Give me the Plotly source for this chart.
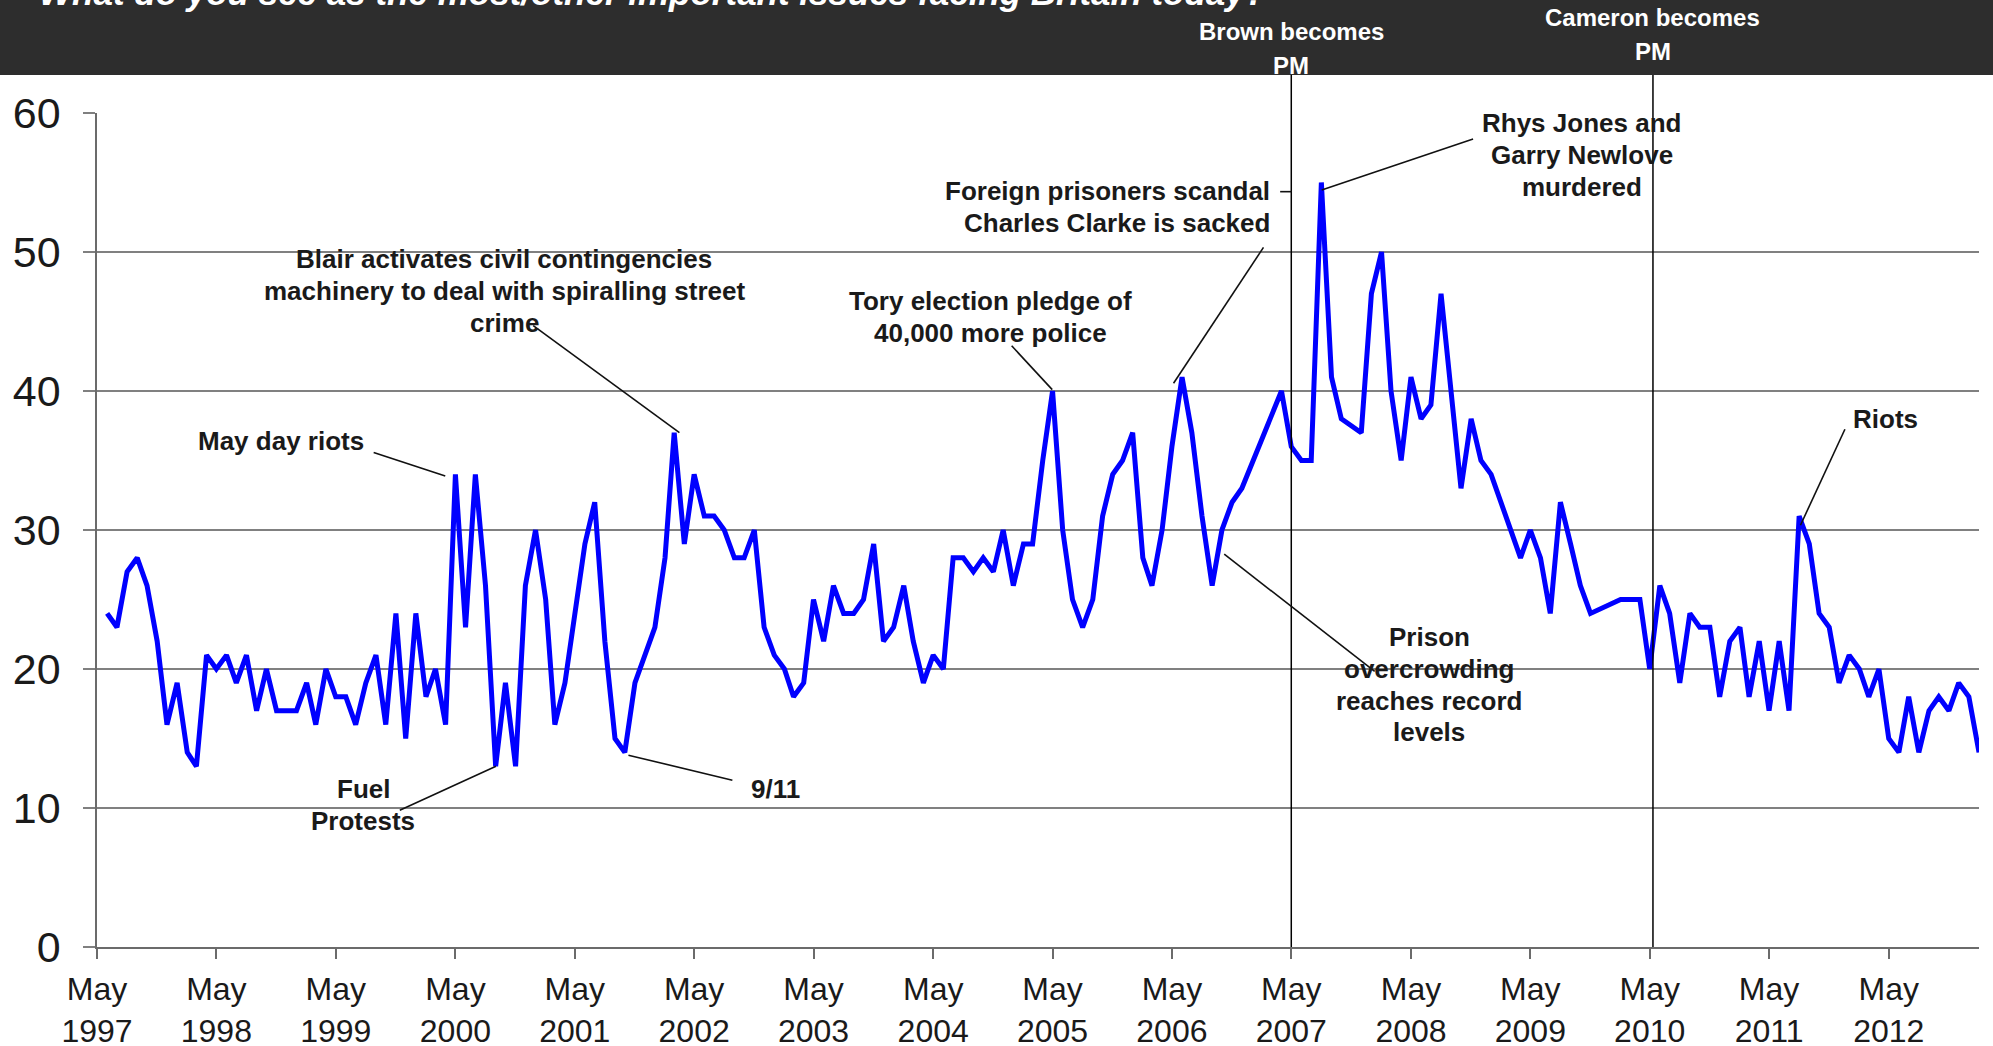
import plotly.graph_objects as go

# ---------------- data (share naming crime as an important issue, %) ----------------
# monthly values, index 0 = January (1997 starts in June, 2013 ends in February); None = no survey
concern_1997 = [24, 23, 27, 28, 26, 22, 16]                      # Jun-Dec
concern_1998 = [19, 14, 13, 21, 20, 21, 19, 21, 17, 20, 17, 17]
concern_1999 = [17, 19, 16, 20, 18, 18, 16, 19, 21, 16, 24, 15]
concern_2000 = [24, 18, 20, 16, 34, 23, 34, 26, 13, 19, 13, 26]
concern_2001 = [30, 25, 16, 19, 24, 29, 32, 22, 15, 14, 19, 21]
concern_2002 = [23, 28, 37, 29, 34, 31, 31, 30, 28, 28, 30, 23]
concern_2003 = [21, 20, 18, 19, 25, 22, 26, 24, 24, 25, 29, 22]
concern_2004 = [23, 26, 22, 19, 21, 20, 28, 28, 27, 28, 27, 30]
concern_2005 = [26, 29, 29, 35, 40, 30, 25, 23, 25, 31, 34, 35]
concern_2006 = [37, 28, 26, 30, 36, 41, 37, 31, 26, 30, 32, 33]
concern_2007 = [None, None, None, 40, 36, 35, 35, 55, 41, 38, None, 37]
concern_2008 = [47, 50, 40, 35, 41, 38, 39, 47, 40, 33, 38, 35]
concern_2009 = [34, 32, 30, 28, 30, 28, 24, 32, 29, 26, 24, None]
concern_2010 = [None, 25, 25, 25, 20, 26, 24, 19, 24, 23, 23, 18]
concern_2011 = [22, 23, 18, 22, 17, 22, 17, 31, 29, 24, 23, 19]
concern_2012 = [21, 20, 18, 20, 15, 14, 18, 14, 17, 18, 17, 19]
concern_2013 = [18, 14]                                          # Jan-Feb

series_by_year = {
    1997: (6, concern_1997), 1998: (1, concern_1998), 1999: (1, concern_1999),
    2000: (1, concern_2000), 2001: (1, concern_2001), 2002: (1, concern_2002),
    2003: (1, concern_2003), 2004: (1, concern_2004), 2005: (1, concern_2005),
    2006: (1, concern_2006), 2007: (1, concern_2007), 2008: (1, concern_2008),
    2009: (1, concern_2009), 2010: (1, concern_2010), 2011: (1, concern_2011),
    2012: (1, concern_2012), 2013: (1, concern_2013),
}

tick_years = list(range(1997, 2013))
tick_dates = [f"{y}-05-01" for y in tick_years]
tick_labels = [f"May<br>{y}" for y in tick_years]

title_text = "What do you see as the most/other important issues facing Britain today?"

pm_events = [  # (date, label lines, paper y of each line)
    ("2007-05-01", ["Brown becomes", "PM"], [1.0981, 1.0569]),
    ("2010-05-11", ["Cameron becomes", "PM"], [1.1148, 1.0737]),
]

# annotation text: (anchor date, value of first line, lines, xanchor)
notes = [
    ("1998-11-14", 36.4, ["May day riots"], "center"),
    ("1999-07-24", 11.35, ["Fuel", "Protests"], "center"),
    ("2000-09-28", 49.5, ["Blair activates civil contingencies",
                          "machinery to deal with spiralling street",
                          "crime"], "center"),
    ("2003-01-05", 11.4, ["9/11"], "center"),
    ("2004-10-22", 46.45, ["Tory election pledge of", "40,000 more police"], "center"),
    ("2007-03-03", 54.4, ["Foreign prisoners scandal", "Charles Clarke is sacked"], "right"),
    ("2009-10-05", 59.26, ["Rhys Jones and", "Garry Newlove", "murdered"], "center"),
    ("2008-06-26", 22.3, ["Prison", "overcrowding", "reaches record", "levels"], "center"),
    ("2012-04-20", 37.95, ["Riots"], "center"),
]

# leader lines: ((date0, value0), (date1, value1))
leaders = [
    (("1999-08-25", 35.58), ("2000-03-31", 33.88)),
    (("1999-11-13", 9.84), ("2000-09-02", 13.0)),
    (("2000-12-25", 44.7), ("2002-03-17", 37.0)),
    (("2001-10-12", 13.8), ("2002-08-26", 12.0)),
    (("2004-12-27", 43.25), ("2005-04-30", 40.1)),
    (("2007-02-05", 50.33), ("2006-05-06", 40.56)),
    (("2007-03-28", 54.34), ("2007-05-02", 54.34)),
    (("2007-08-02", 54.46), ("2008-11-07", 58.13)),
    (("2006-10-08", 28.26), ("2008-01-11", 19.83)),
    (("2011-12-19", 37.25), ("2011-08-05", 30.34)),
]

# ---------------- build series ----------------
dates, values = [], []
for year, (start_month, vals) in series_by_year.items():
    for i, v in enumerate(vals):
        dates.append(f"{year}-{start_month + i:02d}-01")
        values.append(v)

FONT = "Liberation Sans, Arial, sans-serif"
TXT = "#1a1a1a"

fig = go.Figure()
fig.add_trace(go.Scatter(
    x=dates, y=values, mode="lines", connectgaps=True,
    line=dict(color="#0000ff", width=5), showlegend=False, hoverinfo="skip",
))

shapes = []
# dark header band
shapes.append(dict(type="rect", xref="paper", yref="paper", x0=-0.1, x1=1.1,
                   y0=1.0456, y1=1.25, fillcolor="#2d2d2d", line=dict(width=0),
                   layer="below"))
# PM change lines
for d, _, _ in pm_events:
    shapes.append(dict(type="line", xref="x", yref="paper", x0=d, x1=d, y0=0, y1=1.0456,
                       line=dict(color="#000000", width=1.5)))
# annotation leader lines
for (d0, v0), (d1, v1) in leaders:
    shapes.append(dict(type="line", xref="x", yref="y", x0=d0, y0=v0, x1=d1, y1=v1,
                       line=dict(color="#111111", width=1.6)))

annotations = []
annotations.append(dict(
    text=title_text, xref="paper", yref="paper", x=-0.0318, y=1.119,
    xanchor="left", yanchor="bottom", showarrow=False,
    font=dict(family=FONT, size=35, color="#ffffff", weight="bold", style="italic"),
))
for d, lines, ys in pm_events:
    for line, yy in zip(lines, ys):
        annotations.append(dict(
            text=line, xref="x", yref="paper", x=d, y=yy, xanchor="center",
            yanchor="middle", showarrow=False,
            font=dict(family=FONT, size=24, color="#ffffff", weight="bold"),
        ))
for d, v, lines, xa in notes:
    for i, line in enumerate(lines):
        annotations.append(dict(
            text=line, xref="x", yref="y", x=d, y=v, yshift=-31.8 * i,
            xanchor=xa, yanchor="middle", showarrow=False,
            font=dict(family=FONT, size=26, color=TXT, weight="bold"),
        ))

fig.update_layout(
    width=1993, height=1046, autosize=False,
    margin=dict(l=97, r=14, t=113, b=99, autoexpand=False),
    paper_bgcolor="#ffffff", plot_bgcolor="#ffffff",
    shapes=shapes, annotations=annotations,
    xaxis=dict(
        type="date", range=["1997-05-01", "2013-02-01"], automargin=False,
        tickmode="array", tickvals=tick_dates, ticktext=tick_labels,
        ticks="outside", ticklen=10, tickwidth=1.5, tickcolor="#6b6b6b",
        showline=True, linecolor="#6b6b6b", linewidth=1.5,
        showgrid=False, zeroline=False,
        tickfont=dict(family=FONT, size=32, color=TXT),
        ticklabelstandoff=3,
    ),
    yaxis=dict(
        range=[0, 60], tickmode="linear", tick0=0, dtick=10, automargin=False,
        ticks="outside", ticklen=12, tickwidth=1.5, tickcolor="#808080",
        showline=True, linecolor="#6b6b6b", linewidth=1.5,
        showgrid=True, gridcolor="#808080", gridwidth=1.5, zeroline=False,
        tickfont=dict(family=FONT, size=43, color=TXT),
        ticklabelstandoff=14,
    ),
)

fig.write_html(
    "out.html",
    config={"displayModeBar": False},
    post_script="document.body.style.margin='0';document.body.style.padding='0';"
                "document.body.style.overflow='hidden';",
)
